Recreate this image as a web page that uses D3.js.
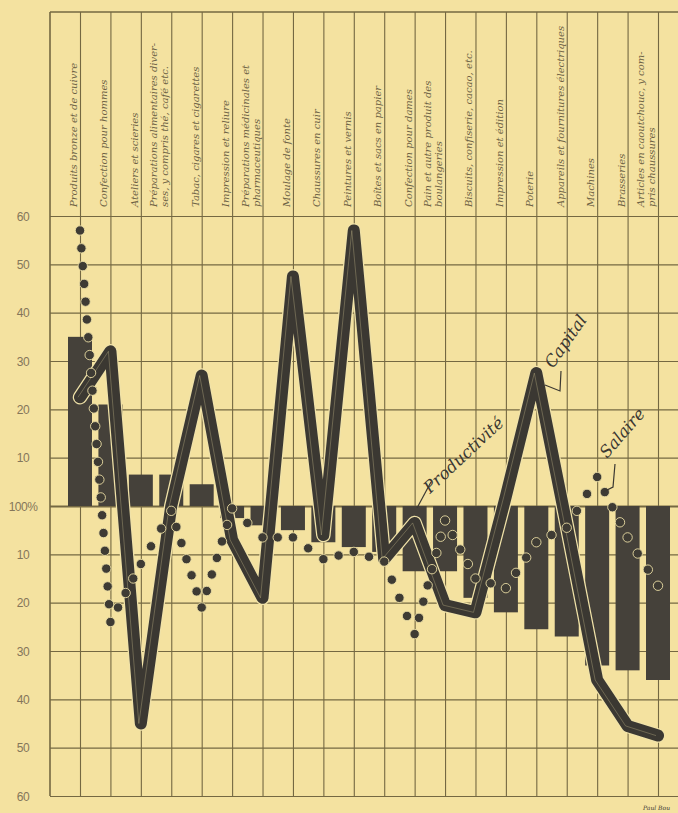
<!DOCTYPE html>
<html>
<head>
<meta charset="utf-8">
<script src="https://cdn.jsdelivr.net/npm/d3@7"></script>
<style>
  body { margin: 0; background: #f4e3a1; }
  svg { display: block; }
</style>
</head>
<body>
<div id="chart"></div>
<script>
// one entry per industry, each entry = the lines of its handwritten label
var industries = [
  ["Produits bronze et de cuivre"],
  ["Confection pour hommes"],
  ["Ateliers et scieries"],
  ["Préparations alimentaires diver-", "ses, y compris thé, café etc."],
  ["Tabac, cigares et cigarettes"],
  ["Impression et reliure"],
  ["Préparations médicinales et", "pharmaceutiques"],
  ["Moulage de fonte"],
  ["Chaussures en cuir"],
  ["Peintures et vernis"],
  ["Boîtes et sacs en papier"],
  ["Confection pour dames"],
  ["Pain et autre produit des", "boulangeries"],
  ["Biscuits, confiserie, cacao, etc."],
  ["Impression et édition"],
  ["Poterie"],
  ["Appareils et fournitures électriques"],
  ["Machines"],
  ["Brasseries"],
  ["Articles en caoutchouc, y com-", "pris chaussures"]
];

// deviation from 100%
var productivite = [35, 21, 6.5, 6.5, 4.5, -2.5, -4, -5, -7.5, -8.5, -9.5, -13.5, -13.5, -19, -22, -25.5, -27, -33, -34, -36];
var capital      = [22.5, 32, -45, 0, 27, -7, -19, 47.5, -6, 57, -11, -3.5, -20.5, -22, 2, 27.5, -4, -36, -45.5, -47.5];
var salaire      = [57, -24, -12, -1, -21, -0.5, -6.5, -6.5, -11, -9.5, -11.5, -26.5, -3, -15, -17, -7.5, -4.5, 6, -6.5, -16.5];

var yTicks      = [60, 50, 40, 30, 20, 10, 0, -10, -20, -30, -40, -50, -60];
var yTickLabels = ["60", "50", "40", "30", "20", "10", "100%", "10", "20", "30", "40", "50", "60"];

var width = 678, height = 813;
var margin = {top: 216, right: 0, bottom: 17, left: 50},
    headTop = 12,
    plotBottom = height - margin.bottom;

var paper = "#f4e2a0", grid = "#746842", ink = "#3b3832", labelInk = "#6e6245";

var svg = d3.select("#chart")
  .append("svg")
    .attr("width", width)
    .attr("height", height);

svg.append("rect")
  .attr("width", width)
  .attr("height", height)
  .attr("fill", paper);

var x = d3.scalePoint()
  .domain(d3.range(industries.length))
  .range([80, 658]);

var y = d3.scaleLinear()
  .domain([-60, 60])
  .range([plotBottom, margin.top]);

// horizontal grid + left labels
var yAxis = svg.append("g")
  .attr("transform", "translate(" + margin.left + ",0)")
  .call(d3.axisLeft(y)
    .tickValues(yTicks)
    .tickFormat(function(d, i) { return yTickLabels[i]; })
    .tickSize(-(width - margin.left))
    .tickPadding(0));
yAxis.select(".domain").remove();
yAxis.selectAll(".tick line")
  .attr("stroke", grid)
  .attr("stroke-width", function(d) { return d === 0 ? 2 : 1.1; });
yAxis.selectAll(".tick text")
  .attr("x", -27)
  .attr("dy", "0.36em")
  .style("text-anchor", "middle")
  .style("font-family", "Liberation Sans, Arial, sans-serif")
  .style("font-size", "12px")
  .style("letter-spacing", "-0.5px")
  .attr("fill", "#84765a");

// vertical grid, one line per industry, running through the header
var xAxis = svg.append("g")
  .attr("transform", "translate(0," + plotBottom + ")")
  .call(d3.axisBottom(x)
    .tickSize(-(plotBottom - headTop))
    .tickFormat(""));
xAxis.select(".domain").remove();
xAxis.selectAll(".tick line")
  .attr("stroke", grid)
  .attr("stroke-width", 1.1);

// frame: left axis and top border
svg.append("line")
  .attr("x1", margin.left).attr("x2", margin.left)
  .attr("y1", headTop).attr("y2", plotBottom)
  .attr("stroke", grid).attr("stroke-width", 1.6);
svg.append("line")
  .attr("x1", margin.left).attr("x2", width)
  .attr("y1", headTop).attr("y2", headTop)
  .attr("stroke", grid).attr("stroke-width", 1.6);

// industry labels, written upward left of each line
var lineGap = 11;
industries.forEach(function(lines, i) {
  lines.forEach(function(t, j) {
    var lx = x(i) - 3 - (lines.length - 1 - j) * lineGap;
    svg.append("text")
      .attr("transform", "translate(" + lx + "," + 207 + ") rotate(-90)")
      .style("font-family", "DejaVu Serif, serif")
      .style("font-style", "italic")
      .style("font-size", "10px")
      .attr("fill", labelInk)
      .text(t);
  });
});

// Productivité bars
var barW = 24;
svg.selectAll("rect.bar")
  .data(productivite)
  .enter()
  .append("rect")
    .attr("class", "bar")
    .attr("x", function(d, i) { return x(i) - barW / 2; })
    .attr("width", barW)
    .attr("y", function(d) { return y(Math.max(0, d)); })
    .attr("height", function(d) { return Math.abs(y(d) - y(0)); })
    .attr("fill", "#45413a");

// Capital thick line
var capLine = d3.line()
  .x(function(d, i) { return x(i); })
  .y(function(d) { return y(d); });

svg.append("path")
  .attr("d", capLine(capital))
  .attr("fill", "none")
  .attr("stroke", "#f0e2a8")
  .attr("stroke-width", 14.5)
  .attr("stroke-linejoin", "round")
  .attr("stroke-linecap", "round");
svg.append("path")
  .attr("d", capLine(capital))
  .attr("fill", "none")
  .attr("stroke", ink)
  .attr("stroke-width", 12)
  .attr("stroke-linejoin", "round")
  .attr("stroke-linecap", "round");
svg.append("path")
  .attr("d", capLine(capital))
  .attr("fill", "none")
  .attr("stroke", "#d8cc98")
  .attr("stroke-width", 0.8)
  .attr("opacity", 0.4)
  .attr("transform", "translate(-2,0)");

// Salaire: string of beads along the polyline
var pts = salaire.map(function(d, i) { return [x(i), y(d)]; });
var beads = [];
var step = 18;
for (var i = 0; i < pts.length - 1; i++) {
  var a = pts[i], b = pts[i + 1];
  var len = Math.hypot(b[0] - a[0], b[1] - a[1]);
  var n = Math.max(1, Math.round(len / step));
  for (var k = 0; k < n; k++) {
    beads.push([a[0] + (b[0] - a[0]) * k / n, a[1] + (b[1] - a[1]) * k / n]);
  }
}
beads.push(pts[pts.length - 1]);

svg.selectAll("circle.bead")
  .data(beads)
  .enter()
  .append("circle")
    .attr("class", "bead")
    .attr("cx", function(d) { return d[0]; })
    .attr("cy", function(d) { return d[1]; })
    .attr("r", 4.7)
    .attr("fill", "#3e3b34")
    .attr("stroke", "#eadca4")
    .attr("stroke-width", 0.9);

// annotations
function note(txt, tx, ty, angle, leader) {
  svg.append("path")
    .attr("d", d3.line()(leader))
    .attr("fill", "none")
    .attr("stroke", ink)
    .attr("stroke-width", 1.2);
  svg.append("text")
    .attr("transform", "translate(" + tx + "," + ty + ") rotate(" + angle + ")")
    .style("font-family", "DejaVu Serif, serif")
    .style("font-style", "italic")
    .style("font-size", "16.5px")
    .attr("fill", ink)
    .text(txt);
}
note("Productivité", 430, 494, -43, [[417, 508], [431, 482]]);
note("Capital", 553, 369, -55, [[545, 385], [560, 391], [561, 371]]);
note("Salaire", 607, 459, -49, [[603, 492], [613, 487], [615, 464]]);

svg.append("text")
  .attr("x", 670).attr("y", 810)
  .style("text-anchor", "end")
  .style("font-family", "DejaVu Serif, serif")
  .style("font-style", "italic")
  .style("font-size", "6px")
  .attr("fill", ink)
  .text("Paul Bou");
</script>
</body>
</html>
